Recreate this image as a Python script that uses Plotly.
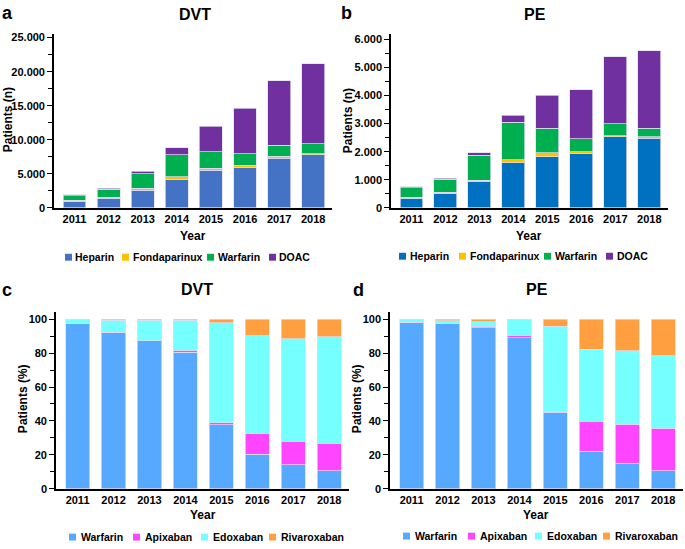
import plotly.graph_objects as go

years = ["2011", "2012", "2013", "2014", "2015", "2016", "2017", "2018"]

# Panel a: DVT, patients (n), stacked
dvt_heparin = [950, 1400, 2600, 4230, 5530, 6010, 7310, 7840]
dvt_fonda = [200, 150, 280, 370, 330, 240, 290, 140]
dvt_warfarin = [650, 1200, 2120, 3240, 2360, 1730, 1630, 1440]
dvt_doac = [120, 130, 380, 1010, 3800, 6680, 9470, 11780]

# Panel b: PE, patients (n), stacked
pe_heparin = [340, 500, 930, 1610, 1820, 1920, 2530, 2470]
pe_fonda = [40, 50, 60, 100, 140, 80, 45, 60]
pe_warfarin = [330, 475, 885, 1340, 880, 460, 425, 310]
pe_doac = [35, 35, 85, 250, 1170, 1740, 2370, 2750]

# Panel c: DVT, patients (%)
dvt_p_warfarin = [97.5, 92.0, 87.2, 80.6, 37.8, 20.3, 14.1, 10.6]
dvt_p_apixaban = [0.2, 0.2, 0.2, 1.0, 1.2, 12.1, 13.8, 16.0]
dvt_p_edoxaban = [2.0, 7.2, 12.0, 17.8, 58.9, 57.9, 60.7, 62.9]
dvt_p_rivaroxaban = [0.3, 0.6, 0.6, 0.6, 2.1, 9.7, 11.4, 10.5]

# Panel d: PE, patients (%)
pe_p_warfarin = [98.1, 97.3, 95.1, 89.1, 45.1, 22.2, 15.0, 10.7]
pe_p_apixaban = [0.1, 0.4, 0.6, 1.4, 0.6, 17.5, 23.1, 24.9]
pe_p_edoxaban = [1.4, 1.3, 2.9, 9.1, 50.2, 42.6, 43.2, 42.8]
pe_p_rivaroxaban = [0.4, 1.0, 1.4, 0.4, 4.1, 17.7, 18.7, 21.6]

n_names = ["Heparin", "Fondaparinux", "Warfarin", "DOAC"]
p_names = ["Warfarin", "Apixaban", "Edoxaban", "Rivaroxaban"]

col_a = ["#4472C4", "#FFC000", "#00B050", "#7030A0"]
col_b = ["#0070C0", "#FFC000", "#00B050", "#7030A0"]
col_p = ["#56A9FF", "#FF45FF", "#75FFFF", "#FF9F3F"]

FONT = "Liberation Sans, Arial, sans-serif"
W, H = 685, 549
def px(x): return x / W
def py(y): return 1 - y / H

fig = go.Figure()

panels = [
    ("x", "y", [dvt_heparin, dvt_fonda, dvt_warfarin, dvt_doac], n_names, col_a),
    ("x2", "y2", [pe_heparin, pe_fonda, pe_warfarin, pe_doac], n_names, col_b),
    ("x3", "y3", [dvt_p_warfarin, dvt_p_apixaban, dvt_p_edoxaban, dvt_p_rivaroxaban], p_names, col_p),
    ("x4", "y4", [pe_p_warfarin, pe_p_apixaban, pe_p_edoxaban, pe_p_rivaroxaban], p_names, col_p),
]

for xa, ya, series, names, cols in panels:
    for vals, nm, c in zip(series, names, cols):
        fig.add_trace(go.Bar(
            x=years, y=vals, name=nm, xaxis=xa, yaxis=ya, showlegend=False,
            marker=dict(color=c, line=dict(color="rgba(225,220,240,0.9)", width=0.8)),
        ))

TICKFONT = dict(family=FONT, size=11, color="black", weight="bold")

def xaxis(domain, anchor):
    return dict(domain=domain, anchor=anchor, type="category",
                showline=True, linecolor="black", linewidth=1.6,
                ticks="", showgrid=False, zeroline=False, tickangle=0,
                tickfont=TICKFONT, range=[-0.6, 7.55])

def yaxis(domain, anchor, rng, dtick, fmt):
    return dict(domain=domain, anchor=anchor, range=rng, dtick=dtick,
                showline=True, linecolor="black", linewidth=1.6,
                ticks="outside", ticklen=5, tickwidth=1.2, tickcolor="black",
                showgrid=False, zeroline=False, tickformat=fmt,
                minor=dict(ticks="outside", ticklen=4, tickwidth=1.2, tickcolor="black",
                           dtick=dtick / 2, showgrid=False),
                tickfont=TICKFONT)

fig.update_layout(
    width=W, height=H, margin=dict(l=0, r=0, t=0, b=0),
    paper_bgcolor="white", plot_bgcolor="white",
    barmode="stack", bargap=0.33, separators=",.",
    font=dict(family=FONT, color="black"),
    xaxis=xaxis([px(54), px(332)], "y"),
    yaxis=yaxis([py(209), py(32)], "x", [0, 25600], 5000, ",d"),
    xaxis2=xaxis([px(391), px(668)], "y2"),
    yaxis2=yaxis([py(209), py(32)], "x2", [0, 6200], 1000, ",d"),
    xaxis3=xaxis([px(56), px(349)], "y3"),
    yaxis3=yaxis([py(494), py(315)], "x3", [0, 104], 20, "d"),
    xaxis4=xaxis([px(390), px(683)], "y4"),
    yaxis4=yaxis([py(494), py(315)], "x4", [0, 104], 20, "d"),
)

ann = []
shapes = []
def add(text, x, y, size, angle=0, anchor="center"):
    ann.append(dict(text=text, x=px(x), y=py(y), xref="paper", yref="paper",
                    showarrow=False, textangle=angle, xanchor=anchor, yanchor="middle",
                    borderpad=0,
                    font=dict(family=FONT, size=size, color="black", weight="bold")))

# manual legends: (marker left x, text left x) per entry, row y
legend_specs = [
    (n_names, col_a, [65, 122, 207, 269], [74, 132, 217, 278], 259),
    (n_names, col_b, [399, 459, 544, 606], [409, 469, 554, 616], 258),
    (p_names, col_p, [69, 133, 201, 269], [80, 144, 212, 280], 543),
    (p_names, col_p, [403, 468, 535, 603], [414, 479, 546, 614], 542),
]
for names, cols, mxs, txs, cy in legend_specs:
    for nm, c, mx, tx in zip(names, cols, mxs, txs):
        shapes.append(dict(type="rect", xref="paper", yref="paper",
                           x0=px(mx), x1=px(mx + 7), y0=py(cy + 3.5), y1=py(cy - 3.5),
                           fillcolor=c, line=dict(width=0)))
        add(nm, tx, cy, 10.5, anchor="left")

add("DVT", 195, 13, 16)
add("PE", 535, 13, 16)
add("DVT", 197, 292, 16)
add("PE", 537, 292, 16)
add("a", 8, 11, 18)
add("b", 346, 11, 18)
add("c", 7, 292, 18)
add("d", 358, 292, 18)
add("Year", 193, 237, 12)
add("Year", 529, 237, 12)
add("Year", 203, 521, 12)
add("Year", 536, 521, 12)
add("Patients (n)", 8, 120, 12, -90)
add("Patients (n)", 348, 120, 12, -90)
add("Patients (%)", 23, 403, 12, -90)
add("Patients (%)", 357, 403, 12, -90)
fig.update_layout(annotations=ann, shapes=shapes)

fig.write_html("out.html", config={"displayModeBar": False},
               post_script="document.body.style.margin='0';document.body.style.overflow='hidden';")
